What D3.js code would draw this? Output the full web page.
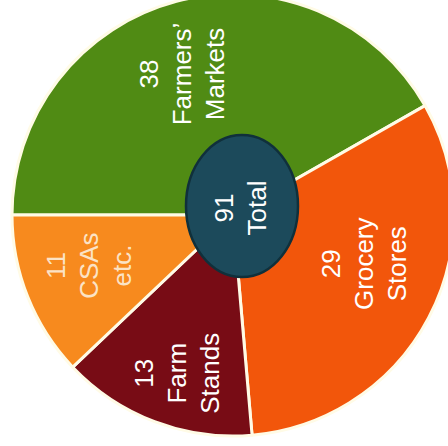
<!DOCTYPE html>
<html>
<head>
<meta charset="utf-8">
<script src="https://cdn.jsdelivr.net/npm/d3@7"></script>
<style>
  html, body { margin: 0; padding: 0; background: #ffffff; }
  svg { display: block; }
</style>
</head>
<body>
<svg id="chart" width="448" height="446"></svg>
<script>
// Where the food comes from: outlets by type
const categories = ["Farmers’|Markets", "Grocery|Stores", "Farm|Stands", "CSAs|etc."];
const values = [38, 29, 13, 11];
const colors = ["#508b14", "#f2560b", "#780c15", "#f78a1e"];
const labelColors = ["#ffffff", "#ffffff", "#ffffff", "#fbe3c6"];
const totalLabel = "Total";

const W = 448, H = 446;
const cx = 233, cy = 215, R = 221;

const svg = d3.select("#chart");
const g = svg.append("g").attr("transform", `translate(${cx},${cy})`);

const rows = categories.map((c, i) => ({ name: c, value: values[i], i }));

const pie = d3.pie()
  .sort(null)
  .value(d => d.value)
  .startAngle(-Math.PI / 2)
  .endAngle(3 * Math.PI / 2);

const arcs = pie(rows);
const arc = d3.arc().innerRadius(0).outerRadius(R);
const labelArc = d3.arc().innerRadius(150).outerRadius(150);

g.selectAll("path.slice")
  .data(arcs)
  .join("path")
  .attr("class", "slice")
  .attr("d", arc)
  .attr("fill", d => colors[d.data.i])
  .attr("stroke", "#fffbe6")
  .attr("stroke-width", 3)
  .attr("stroke-linejoin", "round");

// small hand nudges so each label block sits well inside its wedge
const nudge = [[-13, 4], [-2, -21], [-3, 18], [-5, -5]];
const fontSize = 26, lineGap = 33;

function stackedLabel(parent, x, y, lines, fill) {
  const t = parent.append("text")
    .attr("transform", `translate(${x},${y}) rotate(-90)`)
    .attr("text-anchor", "middle")
    .attr("font-family", "Liberation Sans, Arial, Helvetica, sans-serif")
    .attr("font-size", fontSize)
    .attr("fill", fill);
  const n = lines.length;
  lines.forEach((ln, k) => {
    t.append("tspan")
      .attr("x", 0)
      .attr("y", (k - (n - 1) / 2) * lineGap)
      .attr("dy", "0.35em")
      .text(ln);
  });
}

arcs.forEach(d => {
  const [x, y] = labelArc.centroid(d);
  const [nx, ny] = nudge[d.data.i];
  const lines = [String(d.data.value)].concat(d.data.name.split("|"));
  stackedLabel(g, x + nx, y + ny, lines, labelColors[d.data.i]);
});

// centre hub with the total
const total = d3.sum(values);
const hub = svg.append("g").attr("transform", "translate(242,206)");
hub.append("ellipse")
  .attr("rx", 56)
  .attr("ry", 71)
  .attr("fill", "#1c4a5b")
  .attr("stroke", "#10303b")
  .attr("stroke-width", 2.5);
stackedLabel(hub, -2, 2, [String(total), totalLabel], "#ffffff");
</script>
</body>
</html>
